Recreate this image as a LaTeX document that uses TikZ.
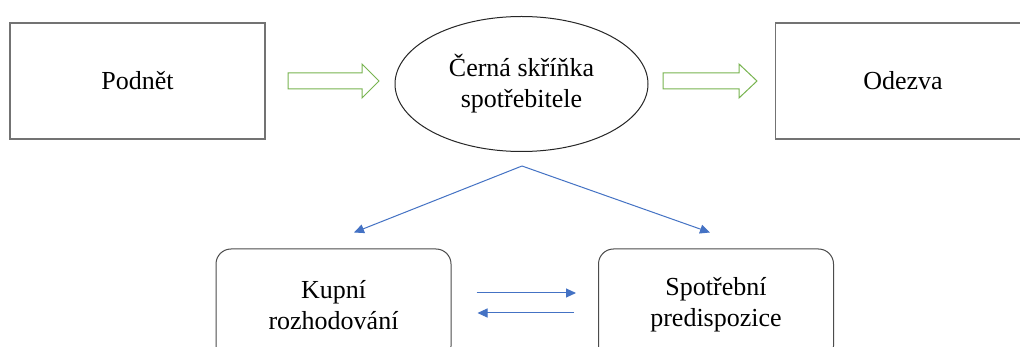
\documentclass[tikz,border=0pt]{standalone}
\usepackage{fontspec}
\setmainfont{Liberation Serif}
\usetikzlibrary{shapes.geometric,arrows.meta,calc}
\definecolor{arrgreen}{RGB}{120,180,80}
\definecolor{arrblue}{RGB}{68,114,196}
\definecolor{boxgray}{RGB}{115,115,115}
\begin{document}
\begin{tikzpicture}[x=1pt,y=-1pt,
  txt/.style={font=\fontsize{26}{31}\selectfont, align=center, inner sep=0pt},
  sqbox/.style={txt, draw=boxgray, line width=1.6pt, minimum width=255pt, minimum height=116pt},
  rbox/.style={txt, draw=black!70, line width=1pt, rounded corners=15pt, minimum width=235pt, minimum height=112pt},
  blk/.style={draw=arrgreen, line width=1pt, fill=white, line join=miter},
  bl/.style={draw=arrblue, line width=1pt, -{Triangle[length=10pt,width=9pt]}}
]
\useasboundingbox (0,0) rectangle (1020,347);
\fill[white] (0,0) rectangle (1020,347);

\node[sqbox] (podnet) at (137.5,81) {Podnět};
\node[sqbox] (odezva) at (903,81) {Odezva};
\node[txt, ellipse, draw=black!85, line width=1pt, minimum width=253pt, minimum height=135pt] (cerna) at (521.5,84) {Černá skříňka\\spotřebitele};
\node[rbox] (kupni) at (333.5,305) {Kupní\\rozhodování};
\node[rbox] (spotr) at (716,305) {Spotřební\\predispozice};

% green block arrows
\coordinate (g1s) at (288,81);
\coordinate (g1t) at (379,81);
\coordinate (g2s) at (663,81);
\coordinate (g2t) at (757,81);
\draw[blk] ($(g1s)+(0,-8)$) -- ($(g1t)+(-17,-8)$) -- ($(g1t)+(-17,-17)$) -- (g1t) -- ($(g1t)+(-17,17)$) -- ($(g1t)+(-17,8)$) -- ($(g1s)+(0,8)$) -- cycle;
\draw[blk] ($(g2s)+(0,-8)$) -- ($(g2t)+(-18,-8)$) -- ($(g2t)+(-18,-17)$) -- (g2t) -- ($(g2t)+(-18,17)$) -- ($(g2t)+(-18,8)$) -- ($(g2s)+(0,8)$) -- cycle;

% blue connectors
\coordinate (apex) at (522,166);
\coordinate (lt) at ($(kupni.north)+(20.5,-16)$);
\coordinate (rt) at ($(spotr.north)+(-6,-16)$);
\draw[bl] (apex) -- (lt);
\draw[bl] (apex) -- (rt);

\coordinate (h1s) at ($(kupni.east)+(25,-12)$);
\coordinate (h1e) at ($(spotr.west)+(-22,-12)$);
\coordinate (h2s) at ($(spotr.west)+(-24,8)$);
\coordinate (h2e) at ($(kupni.east)+(26,8)$);
\draw[bl] (h1s) -- (h1e);
\draw[bl] (h2s) -- (h2e);
\end{tikzpicture}
\end{document}
